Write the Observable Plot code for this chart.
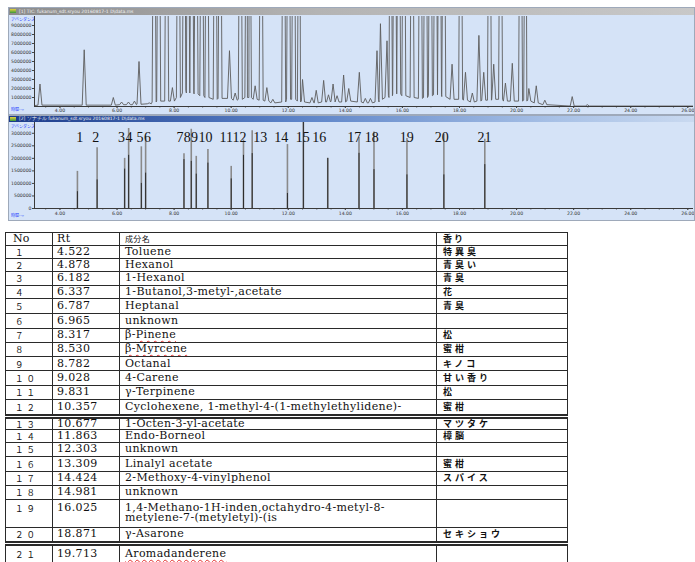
<!DOCTYPE html>
<html><head><meta charset="utf-8">
<script src="https://cdn.jsdelivr.net/npm/d3@7"></script>
<script src="https://cdn.jsdelivr.net/npm/@observablehq/plot@0.6"></script>
<style>
html,body{margin:0;padding:0;background:#fff;}
body{width:695px;height:562px;overflow:hidden;position:relative;}
.win{position:absolute;left:8px;width:687px;background:#d5e3f7;border:1px solid #9ea9ba;box-sizing:border-box;overflow:hidden;}
.bar{position:absolute;left:0;right:0;top:0;font:4.5px "DejaVu Sans",sans-serif;color:#f2f2f2;white-space:nowrap;padding-left:10px;box-sizing:border-box;}
.icon{position:absolute;left:1px;top:1px;width:6px;height:4px;background:linear-gradient(#e8d040,#3a9a3a);}
.blue{position:absolute;font:4px "Noto Sans CJK JP",sans-serif;color:#2340ff;white-space:nowrap;line-height:5px;}
.plotbox{position:absolute;left:1px;}
table{position:absolute;left:5px;top:232px;border-collapse:collapse;table-layout:fixed;font:11px "DejaVu Serif",serif;letter-spacing:0.35px;color:#111;}
td{border:1.3px solid #2a2a2a;padding:0 0 0 5px;vertical-align:middle;line-height:10px;white-space:pre-line;overflow:hidden;}
td.no{padding-left:9px;font-family:"Noto Sans CJK JP",sans-serif;font-size:8.5px;letter-spacing:3px;}
td.rt{padding-left:4px;}
td.ar{padding-left:6px;font-family:"Noto Sans CJK JP",sans-serif;font-weight:bold;font-size:9px;letter-spacing:3px;}
tr.hd td.nm{font-family:"Noto Sans CJK JP",sans-serif;font-size:8px;}
.sq{text-decoration:underline wavy #e23030;text-decoration-thickness:1px;text-underline-offset:2px;}
</style>
</head><body>
<div id="w1" class="win" style="top:7px;height:108px;">
  <div class="bar" style="height:7px;line-height:7px;background:linear-gradient(to right,#8c8c8c,#b4b4b4 45%,#c8c8c8);"><span class="icon"></span>[1] TIC: fukanum_sdt.sryou 20160817-1 D\data.ms</div>
  <div class="blue" style="left:2px;top:9px;">アバンダンス</div>
  <div class="blue" style="left:2px;top:99px;">時間--&gt;</div>
  <div id="p1" class="plotbox" style="top:7px;"></div>
</div>
<div id="w2" class="win" style="top:115px;height:106px;">
  <div class="bar" style="height:6px;line-height:6px;background:linear-gradient(to right,#1c3b8a,#5880c6 40%,#a8c1e6 80%,#c9d9f0);"><span class="icon"></span>[2] ソナチル fukanum_sdt.sryou 20160817-1 D\data.ms</div>
  <div class="blue" style="left:2px;top:8px;">アバンダンス</div>
  <div class="blue" style="left:2px;top:97px;">時間--&gt;</div>
  <div id="p2" class="plotbox" style="top:6px;"></div>
</div>
<table id="tbl"></table>
<script>
// ---------- TIC chromatogram (top panel) ----------
const ticPeakTimes = [3.30,4.85,5.87,6.16,6.40,6.61,6.77,7.13,7.30,7.46,7.74,7.94,8.15,8.36,8.48,8.62,8.77,8.97,9.15,9.44,9.61,9.94,10.14,10.32,10.55,10.64,10.84,11.05,11.25,11.46,11.84,12.01,12.19,12.39,12.50,12.83,12.98,13.24,13.41,13.57,13.71,13.94,14.12,14.49,14.70,14.88,15.11,15.23,15.46,15.58,15.73,15.87,16.05,16.34,16.63,16.81,16.98,17.16,17.30,17.45,17.74,18.04,18.21,18.45,18.68,18.85,19.05,19.20,19.44,19.61,19.85,20.14,20.32,20.43,20.69,20.99,21.95,22.48];
const ticPeakHeights = [2.5e6,6.3e6,1.0e6,0.5e6,0.5e6,0.6e6,5.0e6,0.4e6,4e7,4e7,4e7,2.1e6,4e7,4e7,4e7,4e7,4e7,4e7,4e7,4e7,4e7,6.2e6,1.5e6,4e7,4e7,4e7,2.3e6,4e7,2.1e6,0.8e6,4e7,4e7,4e7,4e7,3.0e6,1.0e6,1.8e6,2.9e6,1.3e6,2.5e6,1.2e6,3.5e6,2.0e6,3.8e6,0.9e6,0.9e6,6.2e6,9.2e6,7.3e6,4e7,4e7,4e7,4e7,4e7,4e7,4e7,4e7,4e7,4e7,4e7,4.7e6,4e7,3.8e6,1.5e6,7.9e6,3.8e6,4e7,4.7e6,4e7,2.6e6,4.8e6,4e7,4e7,2.0e6,2.3e6,0.7e6,1.1e6,0.2e6];
const ticPeakFeet = [1.5e5,1.5e5,1.5e5,2e5,2e5,2e5,2.5e5,3e5,5e5,6e5,6e5,6e5,1.0e6,1.5e6,1.8e6,1.5e6,1.4e6,1.2e6,1.0e6,8e5,9e5,9e5,7e5,8e5,1.0e6,1.0e6,8e5,7e5,6e5,4e5,5e5,8e5,8e5,6e5,5e5,4e5,4e5,5e5,5e5,6e5,5e5,5e5,6e5,5e5,4e5,4e5,5e5,8e5,1.0e6,1.2e6,1.4e6,1.4e6,1.2e6,1.0e6,9e5,1.0e6,1.2e6,1.3e6,1.3e6,1.1e6,8e5,8e5,7e5,5e5,6e5,7e5,7e5,8e5,8e5,6e5,6e5,6e5,7e5,6e5,4e5,2e5,5e4,5e4];
const ticStart = [3.108, 1.0e5];
const ticEnd = [26.2, 5e4];
const ticYTicks = [1e6,2e6,3e6,4e6,5e6,6e6,7e6,8e6,9e6];

// ---------- extracted peaks (bottom panel) ----------
const peakTimes = [4.612,5.302,6.267,6.407,6.852,7.002,8.346,8.601,8.776,9.185,10.001,10.431,10.736,11.971,12.530,13.384,14.479,15.004,16.159,17.453,18.887];
const peakHeights = [1.48e6,2.42e6,2.0e6,3.19e6,2.46e6,2.87e6,2.18e6,3.16e6,2.08e6,2.35e6,1.68e6,2.73e6,3.1e6,2.55e6,3.5e6,2.0e6,2.83e6,3.05e6,2.79e6,2.96e6,2.76e6];
const peakInner = [0.67e6,1.14e6,1.57e6,2.12e6,1.0e6,1.41e6,1.95e6,1.88e6,1.37e6,1.81e6,1.18e6,2.12e6,2.19e6,0.6e6,3.5e6,2.0e6,2.2e6,1.55e6,1.34e6,1.34e6,1.75e6];
const peakLabels = ["1","2","3","4","5","6","7","8","9","10","11","12","13","14","15","16","17","18","19","20","21"];
const peakLabelTimes = [4.693,5.253,6.159,6.421,6.806,7.069,8.206,8.461,8.717,9.101,9.826,10.291,11.015,11.750,12.509,13.090,14.315,14.927,16.151,17.376,18.880];
const peakYTicks = [0,500000,1000000,1500000,2000000,2500000,3000000];

// ---------- shared time axis ----------
const xDomain = [3.108, 26.2];
const xTicks = [4,6,8,10,12,14,16,18,20,22,24,26];
const xMinorTicks = d3.range(3.5, 26.01, 0.5);

// ---------- table ----------
const tableHeader = ["No","Rt","成分名","香り"];
const tableNo = ["１","２","３","４","５","６","７","８","９","１０","１１","１２","１３","１４","１５","１６","１７","１８","１９","２０","２１"];
const tableRt = ["4.522","4.878","6.182","6.337","6.787","6.965","8.317","8.530","8.782","9.028","9.831","10.357","10.677","11.863","12.303","13.309","14.424","14.981","16.025","18.871","19.713"];
const tableName = ["Toluene","Hexanol","1-Hexanol","1-Butanol,3-metyl-,acetate","Heptanal","unknown","β-Pinene","β-Myrcene","Octanal","4-Carene","γ-Terpinene","Cyclohexene, 1-methyl-4-(1-methylethylidene)-","1-Octen-3-yl-acetate","Endo-Borneol","unknown","Linalyl acetate","2-Methoxy-4-vinylphenol","unknown","1,4-Methano-1H-inden,octahydro-4-metyl-8-\nmetylene-7-(metyletyl)-(is","γ-Asarone","Aromadanderene"];
const tableAroma = ["特異臭","青臭い","青臭","花","青臭","","松","蜜柑","キノコ","甘い香り","松","蜜柑","マツタケ","樟脳","","蜜柑","スパイス","","","セキショウ",""];
const squiggled = {6:"Pinene",7:"β-Myrcene",20:"Aromadanderene"};

// ---------- draw top panel ----------
const trace = [{t: ticStart[0], v: ticStart[1]}];
const HALF = 0.07;
ticPeakTimes.forEach((t, i) => {
  trace.push({t: t - HALF, v: ticPeakFeet[i]}, {t, v: ticPeakHeights[i]}, {t: t + HALF, v: ticPeakFeet[i]});
});
trace.push({t: ticEnd[0], v: ticEnd[1]});
trace.sort((a, b) => a.t - b.t);

const axisStyle = {background: "transparent", fontFamily: "DejaVu Sans, sans-serif", fontSize: "4.6px", color: "#333", overflow: "visible"};

const p1 = Plot.plot({
  width: 684, height: 99,
  marginLeft: 24, marginRight: 1, marginTop: 1, marginBottom: 8,
  style: axisStyle,
  x: {domain: xDomain},
  y: {domain: [0, 1e7]},
  marks: [
    Plot.axisX({ticks: xMinorTicks, tickSize: 1.5, tickFormat: () => "", label: null, stroke: "#555"}),
    Plot.axisX({ticks: xTicks, tickFormat: d3.format(".2f"), tickSize: 2, tickPadding: 0.5, label: null, stroke: "#444"}),
    Plot.axisY({ticks: ticYTicks, tickFormat: d3.format("d"), tickSize: 2, tickPadding: 1, label: null, stroke: "#444"}),
    Plot.line(trace, {x: "t", y: "v", stroke: "#5c5c5c", strokeWidth: 0.9, clip: true}),
    Plot.ruleY([0], {stroke: "#3a3a3a", strokeWidth: 1}),
    Plot.ruleX([xDomain[0]], {stroke: "#3a3a3a", strokeWidth: 1})
  ]
});
document.getElementById("p1").appendChild(p1);

// ---------- draw bottom panel ----------
const sticks = peakTimes.map((t, i) => ({t, h: peakHeights[i], inner: peakInner[i]}));
const labels = peakLabels.map((label, i) => ({label, t: peakLabelTimes[i]}));
const p2 = Plot.plot({
  width: 684, height: 98,
  marginLeft: 24, marginRight: 1, marginTop: 0, marginBottom: 12,
  style: axisStyle,
  x: {domain: xDomain},
  y: {domain: [0, 3.43e6]},
  marks: [
    Plot.axisX({ticks: xMinorTicks, tickSize: 1.5, tickFormat: () => "", label: null, stroke: "#555"}),
    Plot.axisX({ticks: xTicks, tickFormat: d3.format(".2f"), tickSize: 2, tickPadding: 1.5, label: null, stroke: "#444"}),
    Plot.axisY({ticks: peakYTicks, tickFormat: d3.format("d"), tickSize: 2, tickPadding: 1, label: null, stroke: "#444"}),
    Plot.ruleX(sticks, {x: "t", y1: 0, y2: "h", stroke: "#8a8a8a", strokeWidth: 1.6, clip: true}),
    Plot.ruleX(sticks, {x: "t", y1: 0, y2: "inner", stroke: "#2b2b2b", strokeWidth: 1, clip: true}),
    Plot.ruleY([0], {stroke: "#3a3a3a", strokeWidth: 1}),
    Plot.ruleX([xDomain[0]], {stroke: "#3a3a3a", strokeWidth: 1}),
    Plot.text(labels, {x: "t", text: "label", frameAnchor: "top", dy: 10, fontSize: 14, fontFamily: "Liberation Serif, serif", fill: "#111"})
  ]
});
document.getElementById("p2").appendChild(p2);

// ---------- table ----------
const colWidths = [47, 67, 317, 131];
const rowHeights = [13, 13, 12.5, 14, 13.5, 15, 14.5, 14, 14.5, 14, 15, 13.5, 17, 13, 13, 14.5, 14.5, 14, 14, 28, 16, 20];
const tbl = document.getElementById("tbl");
const cg = document.createElement("colgroup");
colWidths.forEach(w => { const c = document.createElement("col"); c.style.width = w + "px"; cg.appendChild(c); });
tbl.appendChild(cg);
tbl.style.width = d3.sum(colWidths) + "px";
function addRow(cells, h, cls, idx) {
  const tr = document.createElement("tr");
  if (cls) tr.className = cls;
  tr.style.height = h + "px";
  ["no","rt","nm","ar"].forEach((c, j) => {
    const td = document.createElement("td");
    td.className = c;
    let txt = cells[j];
    if (j === 2 && idx != null && squiggled[idx]) {
      const w = squiggled[idx];
      const k = txt.indexOf(w);
      td.appendChild(document.createTextNode(txt.slice(0, k)));
      const s = document.createElement("span"); s.className = "sq"; s.textContent = w; td.appendChild(s);
      td.appendChild(document.createTextNode(txt.slice(k + w.length)));
    } else td.textContent = txt;
    tr.appendChild(td);
  });
  tbl.appendChild(tr);
  return tr;
}
const hd = addRow(tableHeader, rowHeights[0], "hd");
hd.children[0].style.fontFamily = '"DejaVu Serif", serif';
hd.children[0].style.fontSize = "11px";
hd.children[0].style.paddingLeft = "7px";
hd.children[0].style.letterSpacing = "0";
hd.children[3].style.fontSize = "9px";
hd.children[3].style.letterSpacing = "2px";
tableNo.forEach((n, i) => {
  const tr = addRow([n, tableRt[i], tableName[i], tableAroma[i]], rowHeights[i + 1], null, i);
  if (i === 18) { [...tr.children].forEach(td => td.style.verticalAlign = "top"); [...tr.children].forEach(td => td.style.paddingTop = "3px"); }
  if (i === 11 || i === 19) [...tr.children].forEach(td => td.style.borderBottom = "5px double #2a2a2a");
});
</script>
</body></html>
